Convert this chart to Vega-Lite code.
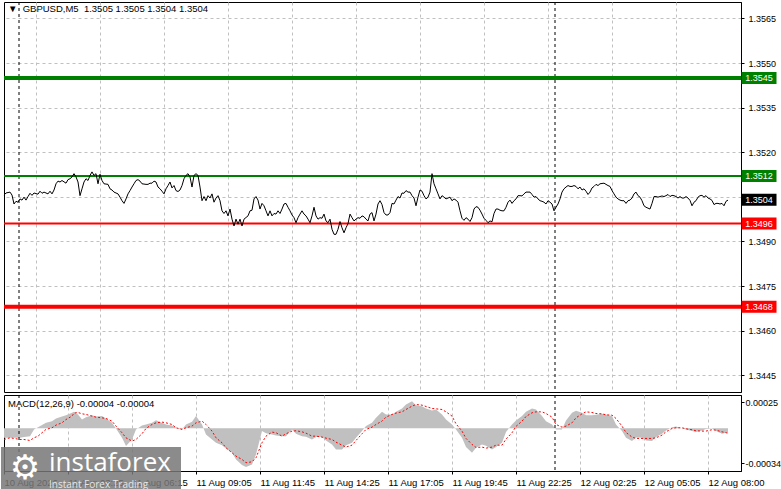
{
  "$schema": "https://vega.github.io/schema/vega-lite/v6.json",
  "padding": {"left": 0, "top": 1, "right": 0, "bottom": 0},
  "background": "white",
  "spacing": 1,
  "config": {
    "view": {"stroke": "black", "strokeWidth": 1},
    "font": "Liberation Sans",
    "axis": {"labelFont": "Liberation Sans", "labelFontSize": 9, "labelColor": "black", "tickColor": "black", "domainColor": "black", "gridColor": "#c0c0c0", "gridDash": [3, 3], "gridWidth": 1, "title": null, "labelOverlap": false, "labelFlush": false}
  },
  "datasets": {
    "price": [
      {"i":0,"p":1.35056},{"i":1,"p":1.35063},{"i":3,"p":1.35066},{"i":4,"p":1.35056},{"i":5,"p":1.35026},{"i":6,"p":1.35035},{"i":7,"p":1.35032},{"i":8,"p":1.35043},{"i":9,"p":1.35039},{"i":10,"p":1.35049},{"i":11,"p":1.35039},{"i":12,"p":1.35051},{"i":13,"p":1.35062},{"i":14,"p":1.35055},{"i":15,"p":1.35063},{"i":17,"p":1.35059},{"i":18,"p":1.35069},{"i":19,"p":1.35062},{"i":20,"p":1.35066},{"i":22,"p":1.3506},{"i":23,"p":1.35069},{"i":24,"p":1.3506},{"i":25,"p":1.35073},{"i":26,"p":1.35094},{"i":27,"p":1.35103},{"i":28,"p":1.351},{"i":29,"p":1.35105},{"i":31,"p":1.35096},{"i":32,"p":1.35108},{"i":33,"p":1.35111},{"i":34,"p":1.35117},{"i":35,"p":1.35128},{"i":36,"p":1.35117},{"i":37,"p":1.351},{"i":38,"p":1.35054},{"i":39,"p":1.35077},{"i":40,"p":1.351},{"i":41,"p":1.35111},{"i":42,"p":1.35105},{"i":43,"p":1.35122},{"i":44,"p":1.35134},{"i":45,"p":1.35122},{"i":46,"p":1.35128},{"i":47,"p":1.35094},{"i":48,"p":1.35126},{"i":49,"p":1.35105},{"i":50,"p":1.35094},{"i":52,"p":1.35092},{"i":53,"p":1.35077},{"i":54,"p":1.35073},{"i":55,"p":1.35066},{"i":57,"p":1.3506},{"i":58,"p":1.35049},{"i":59,"p":1.35037},{"i":60,"p":1.35028},{"i":61,"p":1.35043},{"i":62,"p":1.3506},{"i":63,"p":1.35071},{"i":64,"p":1.35083},{"i":65,"p":1.35094},{"i":66,"p":1.35105},{"i":67,"p":1.35108},{"i":68,"p":1.35103},{"i":69,"p":1.35094},{"i":71,"p":1.35092},{"i":72,"p":1.35092},{"i":73,"p":1.35096},{"i":74,"p":1.35096},{"i":75,"p":1.35103},{"i":76,"p":1.351},{"i":77,"p":1.35083},{"i":78,"p":1.35077},{"i":79,"p":1.35069},{"i":80,"p":1.3506},{"i":81,"p":1.35077},{"i":82,"p":1.35088},{"i":83,"p":1.351},{"i":84,"p":1.3508},{"i":85,"p":1.35088},{"i":86,"p":1.35071},{"i":87,"p":1.35068},{"i":88,"p":1.35073},{"i":89,"p":1.35088},{"i":90,"p":1.35111},{"i":91,"p":1.35122},{"i":92,"p":1.35128},{"i":93,"p":1.35117},{"i":94,"p":1.35083},{"i":95,"p":1.35122},{"i":96,"p":1.35128},{"i":97,"p":1.35122},{"i":98,"p":1.35083},{"i":99,"p":1.35037},{"i":100,"p":1.35051},{"i":101,"p":1.35037},{"i":102,"p":1.35054},{"i":103,"p":1.35046},{"i":104,"p":1.3506},{"i":105,"p":1.35032},{"i":106,"p":1.35046},{"i":107,"p":1.35054},{"i":108,"p":1.35037},{"i":109,"p":1.35003},{"i":110,"p":1.34994},{"i":111,"p":1.35003},{"i":112,"p":1.34986},{"i":113,"p":1.35009},{"i":114,"p":1.34975},{"i":115,"p":1.34952},{"i":116,"p":1.34975},{"i":117,"p":1.34958},{"i":118,"p":1.34975},{"i":119,"p":1.34952},{"i":120,"p":1.34975},{"i":122,"p":1.34986},{"i":123,"p":1.35003},{"i":124,"p":1.35005},{"i":125,"p":1.35043},{"i":126,"p":1.35051},{"i":127,"p":1.35039},{"i":128,"p":1.35009},{"i":129,"p":1.35028},{"i":130,"p":1.3502},{"i":131,"p":1.35003},{"i":132,"p":1.34986},{"i":133,"p":1.35003},{"i":134,"p":1.34986},{"i":135,"p":1.34994},{"i":136,"p":1.34992},{"i":137,"p":1.35003},{"i":138,"p":1.34994},{"i":139,"p":1.35009},{"i":140,"p":1.35026},{"i":141,"p":1.35028},{"i":142,"p":1.35015},{"i":143,"p":1.35003},{"i":144,"p":1.34989},{"i":145,"p":1.3498},{"i":146,"p":1.34963},{"i":147,"p":1.3498},{"i":148,"p":1.34992},{"i":149,"p":1.35003},{"i":150,"p":1.34992},{"i":151,"p":1.34986},{"i":152,"p":1.34975},{"i":153,"p":1.34963},{"i":154,"p":1.34986},{"i":155,"p":1.35015},{"i":156,"p":1.34986},{"i":157,"p":1.34975},{"i":158,"p":1.3498},{"i":159,"p":1.34978},{"i":160,"p":1.34992},{"i":161,"p":1.34969},{"i":162,"p":1.34963},{"i":163,"p":1.34975},{"i":164,"p":1.34941},{"i":165,"p":1.34924},{"i":166,"p":1.34924},{"i":167,"p":1.34941},{"i":168,"p":1.34967},{"i":169,"p":1.34946},{"i":170,"p":1.34929},{"i":171,"p":1.34946},{"i":172,"p":1.3496},{"i":173,"p":1.34992},{"i":174,"p":1.3498},{"i":175,"p":1.34969},{"i":176,"p":1.34975},{"i":177,"p":1.3498},{"i":178,"p":1.34978},{"i":179,"p":1.34986},{"i":180,"p":1.34983},{"i":181,"p":1.34975},{"i":182,"p":1.34969},{"i":183,"p":1.34992},{"i":184,"p":1.34997},
      {"i":185,"p":1.34969},{"i":186,"p":1.34992},{"i":187,"p":1.35026},{"i":188,"p":1.35037},{"i":189,"p":1.35024},{"i":190,"p":1.34997},{"i":191,"p":1.34989},{"i":192,"p":1.34989},{"i":193,"p":1.34997},{"i":194,"p":1.35028},{"i":195,"p":1.35026},{"i":196,"p":1.35039},{"i":197,"p":1.35051},{"i":198,"p":1.35046},{"i":199,"p":1.35063},{"i":200,"p":1.35062},{"i":201,"p":1.35071},{"i":202,"p":1.35066},{"i":203,"p":1.35066},{"i":204,"p":1.35054},{"i":205,"p":1.35046},{"i":206,"p":1.3502},{"i":207,"p":1.35049},{"i":208,"p":1.35073},{"i":209,"p":1.35069},{"i":210,"p":1.35054},{"i":211,"p":1.35043},{"i":212,"p":1.35049},{"i":213,"p":1.35066},{"i":214,"p":1.35128},{"i":215,"p":1.35094},{"i":216,"p":1.35077},{"i":217,"p":1.3506},{"i":218,"p":1.35043},{"i":219,"p":1.35054},{"i":220,"p":1.35049},{"i":221,"p":1.35043},{"i":222,"p":1.35046},{"i":223,"p":1.35049},{"i":224,"p":1.35037},{"i":225,"p":1.35043},{"i":226,"p":1.35039},{"i":227,"p":1.35032},{"i":228,"p":1.35003},{"i":229,"p":1.34978},{"i":230,"p":1.34971},{"i":231,"p":1.3498},{"i":232,"p":1.34975},{"i":233,"p":1.34967},{"i":234,"p":1.3498},{"i":235,"p":1.35009},{"i":236,"p":1.35017},{"i":237,"p":1.35015},{"i":238,"p":1.35005},{"i":239,"p":1.34992},{"i":240,"p":1.34978},{"i":241,"p":1.34971},{"i":242,"p":1.34963},{"i":243,"p":1.34969},{"i":244,"p":1.34966},{"i":245,"p":1.34994},{"i":246,"p":1.35009},{"i":247,"p":1.35009},{"i":248,"p":1.35005},{"i":249,"p":1.35003},{"i":250,"p":1.35003},{"i":251,"p":1.35015},{"i":252,"p":1.35032},{"i":253,"p":1.35039},{"i":254,"p":1.35028},{"i":255,"p":1.35037},{"i":256,"p":1.35043},{"i":257,"p":1.35054},{"i":258,"p":1.35054},{"i":259,"p":1.35053},{"i":260,"p":1.3506},{"i":261,"p":1.35066},{"i":262,"p":1.35066},{"i":263,"p":1.35066},{"i":264,"p":1.35058},{"i":265,"p":1.35049},{"i":266,"p":1.35051},{"i":267,"p":1.35043},{"i":268,"p":1.35037},{"i":269,"p":1.35035},{"i":270,"p":1.35032},{"i":271,"p":1.35026},{"i":272,"p":1.35037},{"i":273,"p":1.35032},{"i":274,"p":1.35026},{"i":275,"p":1.35003},{"i":276,"p":1.35015},{"i":277,"p":1.35026},{"i":278,"p":1.35043},{"i":279,"p":1.35066},{"i":280,"p":1.35077},{"i":281,"p":1.35083},{"i":282,"p":1.35088},{"i":283,"p":1.35085},{"i":284,"p":1.35085},{"i":285,"p":1.35088},{"i":286,"p":1.35085},{"i":287,"p":1.35077},{"i":288,"p":1.35083},{"i":289,"p":1.35073},{"i":290,"p":1.35077},{"i":291,"p":1.35069},{"i":292,"p":1.35058},{"i":293,"p":1.35066},{"i":294,"p":1.3508},{"i":295,"p":1.35085},{"i":296,"p":1.35092},{"i":297,"p":1.35088},{"i":298,"p":1.35094},{"i":299,"p":1.35095},{"i":300,"p":1.35096},{"i":301,"p":1.35092},{"i":302,"p":1.35088},{"i":303,"p":1.35085},{"i":304,"p":1.35071},{"i":305,"p":1.3506},{"i":306,"p":1.35049},{"i":307,"p":1.35043},{"i":308,"p":1.35039},{"i":309,"p":1.35037},{"i":310,"p":1.35037},{"i":311,"p":1.35028},{"i":312,"p":1.35037},{"i":313,"p":1.35039},{"i":314,"p":1.35046},{"i":315,"p":1.3506},{"i":316,"p":1.35066},{"i":317,"p":1.35054},{"i":318,"p":1.35049},{"i":319,"p":1.35037},{"i":320,"p":1.3502},{"i":321,"p":1.35015},{"i":322,"p":1.35012},{"i":323,"p":1.35009},{"i":324,"p":1.35028},{"i":325,"p":1.35051},{"i":326,"p":1.35051},{"i":327,"p":1.35049},{"i":328,"p":1.35051},{"i":329,"p":1.35053},{"i":330,"p":1.35051},{"i":331,"p":1.35054},{"i":332,"p":1.35058},{"i":333,"p":1.35051},{"i":334,"p":1.35055},{"i":335,"p":1.35054},{"i":336,"p":1.35051},{"i":337,"p":1.35046},{"i":338,"p":1.35051},{"i":339,"p":1.35046},{"i":340,"p":1.35046},{"i":341,"p":1.35051},{"i":342,"p":1.35046},{"i":343,"p":1.35038},{"i":344,"p":1.3502},{"i":345,"p":1.35032},{"i":346,"p":1.35037},{"i":347,"p":1.35049},{"i":348,"p":1.35054},{"i":349,"p":1.35055},{"i":350,"p":1.35049},{"i":351,"p":1.35054},{"i":352,"p":1.35046},{"i":353,"p":1.35043},{"i":354,"p":1.35038},{"i":355,"p":1.35024},{"i":356,"p":1.35028},{"i":357,"p":1.35028},{"i":358,"p":1.35026},{"i":359,"p":1.35028},{"i":360,"p":1.3502},{"i":361,"p":1.35035},{"i":362,"p":1.35039}
    ],
    "macd": [
      {"i":0,"h":-0.000092,"s":-0.000108},{"i":3,"h":-0.000092,"s":-0.000092},{"i":5,"h":-0.000092,"s":-0.000098},{"i":8,"h":-0.000092,"s":-0.000108},{"i":10,"h":-0.000085,"s":-0.000108},{"i":13,"h":-0.000076,"s":-0.000118},{"i":15,"h":-0.000011,"s":-0.000092},{"i":17,"h":0.000011,"s":-0.000076},{"i":19,"h":0.000031,"s":-0.000043},{"i":21,"h":0.000053,"s":-0.000011},{"i":24,"h":0.000069,"s":0.000005},{"i":26,"h":0.000095,"s":0.000031},{"i":29,"h":0.000114,"s":0.000053},{"i":31,"h":0.000127,"s":0.000085},{"i":34,"h":0.00015,"s":0.000118},{"i":35,"h":0.000159,"s":0.000147},{"i":37,"h":0.000134,"s":0.000153},{"i":39,"h":0.000085,"s":0.00014},{"i":41,"h":0.000108,"s":0.000134},{"i":44,"h":0.000127,"s":0.000118},{"i":46,"h":0.000114,"s":0.000108},{"i":49,"h":0.000118,"s":0.000101},{"i":51,"h":0.000095,"s":0.000095},{"i":54,"h":0.000053,"s":0.000069},{"i":56,"h":-0.000002,"s":0.000021},{"i":59,"h":-0.000092,"s":-0.000043},{"i":61,"h":-0.000172,"s":-0.000092},{"i":64,"h":-0.000108,"s":-0.000124},{"i":66,"h":-0.000011,"s":-0.000108},{"i":69,"h":0.000027,"s":-0.000053},{"i":71,"h":0.000037,"s":-0.000002},{"i":74,"h":0.000053,"s":0.000037},{"i":76,"h":0.000079,"s":0.000053},{"i":79,"h":0.000053,"s":0.00006},{"i":81,"h":0.000037,"s":0.000053},{"i":84,"h":0.000027,"s":0.000037},{"i":86,"h":0.000005,"s":0.000005},{"i":89,"h":-0.000011,"s":-0.000011},{"i":91,"h":0.000037,"s":0.000005},{"i":94,"h":0.000063,"s":0.000021},{"i":96,"h":0.000118,"s":0.000053},{"i":99,"h":0.000037,"s":0.000069},{"i":101,"h":-0.00006,"s":0.000037},{"i":104,"h":-0.000108,"s":-0.000027},{"i":106,"h":-0.00014,"s":-0.000092},{"i":109,"h":-0.000163,"s":-0.00014},{"i":111,"h":-0.000195,"s":-0.000188},{"i":114,"h":-0.000237,"s":-0.000237},{"i":116,"h":-0.000301,"s":-0.000269},{"i":119,"h":-0.000356,"s":-0.000301},{"i":121,"h":-0.000375,"s":-0.000333},{"i":124,"h":-0.000349,"s":-0.000324},{"i":126,"h":-0.000253,"s":-0.000285},{"i":129,"h":-0.000027,"s":-0.00014},{"i":131,"h":-0.000047,"s":-0.000076},{"i":134,"h":-0.00006,"s":-0.000037},{"i":136,"h":-0.000069,"s":-0.000043},{"i":139,"h":-0.000076,"s":-0.000076},{"i":141,"h":-0.000076,"s":-0.000053},{"i":144,"h":-0.000011,"s":-0.000027},{"i":146,"h":-0.000053,"s":-0.000024},{"i":149,"h":-0.000076,"s":-0.000034},{"i":151,"h":-0.000082,"s":-0.000047},{"i":154,"h":-0.000108,"s":-0.000076},{"i":156,"h":-0.000085,"s":-0.000076},{"i":159,"h":-0.000085,"s":-0.000085},{"i":161,"h":-0.000118,"s":-0.000095},{"i":164,"h":-0.000156,"s":-0.000108},{"i":166,"h":-0.000205,"s":-0.000134},{"i":169,"h":-0.000205,"s":-0.000163},{"i":171,"h":-0.000163,"s":-0.000182},{"i":174,"h":-0.00014,"s":-0.000163},{"i":176,"h":-0.000092,"s":-0.000118},{"i":179,"h":-0.000027,"s":-0.000053},{"i":181,"h":0.000021,"s":-0.000011},{"i":184,"h":0.000053,"s":0.000011},{"i":186,"h":0.000101,"s":0.000037},{"i":189,"h":0.000159,"s":0.000069},{"i":191,"h":0.000134,"s":0.000108},{"i":194,"h":0.000134,"s":0.000134},{"i":196,"h":0.000159,"s":0.000147},{"i":199,"h":0.000192,"s":0.000159},{"i":201,"h":0.00023,"s":0.000182},{"i":204,"h":0.000262,"s":0.000214},{"i":206,"h":0.000224,"s":0.00023},{"i":209,"h":0.000214,"s":0.000224},{"i":211,"h":0.000192,"s":0.000211},{"i":214,"h":0.000172,"s":0.000192},{"i":216,"h":0.000182,"s":0.000188},{"i":219,"h":0.000134,"s":0.000182},{"i":221,"h":0.000085,"s":0.000159},{"i":224,"h":0.000037,"s":0.000118},{"i":226,"h":-0.000011,"s":0.000043},{"i":229,"h":-0.000092,"s":-0.000027},{"i":231,"h":-0.000182,"s":-0.000098},{"i":234,"h":-0.000237,"s":-0.000156},{"i":236,"h":-0.000188,"s":-0.000185},{"i":239,"h":-0.000156,"s":-0.000182},{"i":241,"h":-0.000169,"s":-0.000192},{"i":244,"h":-0.000205,"s":-0.000182},{"i":246,"h":-0.000182,"s":-0.000163},{"i":249,"h":-0.00014,"s":-0.000163},{"i":251,"h":-0.000037,"s":-0.000105},{"i":254,"h":0.000037,"s":-0.000043},{"i":256,"h":0.000076,"s":0.000018},{"i":259,"h":0.000118,"s":0.000069},{"i":261,"h":0.000159,"s":0.000114},{"i":264,"h":0.000192,"s":0.00015},{"i":266,"h":0.000182,"s":0.000159},{"i":269,"h":0.000118,"s":0.000159},{"i":271,"h":0.000069,"s":0.000143},{"i":274,"h":0.000037,"s":0.000108},{"i":276,"h":-0.000011,"s":0.000037},{"i":279,"h":-0.000011,"s":0.000011},{"i":281,"h":0.000076,"s":0.000021},{"i":284,"h":0.00015,"s":0.000053},{"i":286,"h":0.000169,"s":0.000101},{"i":289,"h":0.00015,"s":0.00014},{"i":291,"h":0.000127,"s":0.000159},{"i":294,"h":0.000127,"s":0.000153},{"i":296,"h":0.00013,"s":0.000143},{"i":299,"h":0.00014,"s":0.00014},{"i":301,"h":0.000134,"s":0.00013},{"i":304,"h":0.000118,"s":0.000127},{"i":306,"h":0.000037,"s":0.000095},{"i":309,"h":-0.000027,"s":0.000021},{"i":311,"h":-0.000092,"s":-0.00004},{"i":314,"h":-0.000124,"s":-0.000085},{"i":316,"h":-0.000089,"s":-0.000098},{"i":319,"h":-0.000092,"s":-0.000098},{"i":321,"h":-0.000118,"s":-0.000098},{"i":324,"h":-0.000124,"s":-0.000098},{"i":326,"h":-0.000085,"s":-0.000092},{"i":329,"h":-0.000053,"s":-0.000066},{"i":331,"h":-0.000021,"s":-0.000034},{"i":334,"h":0.000011,"s":-0.000002},{"i":336,"h":0.000018,"s":0.000005},{"i":339,"h":-0.000002,"s":0.000005},{"i":341,"h":-0.000011,"s":-0.000005},{"i":344,"h":-0.000027,"s":-0.000014},{"i":346,"h":-0.000037,"s":-0.000024},{"i":349,"h":-0.000021,"s":-0.000027},{"i":351,"h":-0.000008,"s":-0.000027},{"i":354,"h":-0.000002,"s":-0.000014},{"i":356,"h":-0.000027,"s":-0.000018},{"i":359,"h":-0.000053,"s":-0.000034},{"i":361,"h":-0.000043,"s":-0.000043},{"i":362,"h":-0.000043,"s":-0.000047}
    ],
    "levels": [
      {"p": 1.3545, "role": "buy target"},
      {"p": 1.3512, "role": "buy entry"},
      {"p": 1.3496, "role": "sell entry"},
      {"p": 1.3468, "role": "sell target"},
      {"p": 1.3504, "role": "bid"}
    ],
    "seps": [{"i": 7.5}, {"i": 275.5}]
  },
  "vconcat": [
    {
      "width": 737,
      "height": 390,
      "title": {"text": "▼\u00a0\u00a0GBPUSD,M5\u00a0\u00a01.3505 1.3505 1.3504 1.3504", "anchor": "start", "frame": "group", "offset": -12, "dx": 4, "fontSize": 9.5, "fontWeight": "normal", "font": "Liberation Sans", "color": "black"},
      "layer": [
        {
          "data": {"name": "seps"},
          "mark": {"type": "rule", "color": "black", "strokeDash": [3, 3], "strokeWidth": 1},
          "encoding": {"x": {"field": "i", "type": "quantitative"}}
        },
        {
          "data": {"name": "levels"},
          "transform": [{"filter": "datum.role != 'bid'"}],
          "mark": {"type": "rule"},
          "encoding": {
            "y": {"field": "p", "type": "quantitative"},
            "color": {"field": "role", "type": "nominal", "scale": {"domain": ["buy target", "buy entry", "sell entry", "sell target", "bid"], "range": ["#008000", "#008000", "#ff0000", "#ff0000", "#000000"]}, "legend": null},
            "strokeWidth": {"condition": {"test": "datum.role == 'buy target' || datum.role == 'sell target'", "value": 4}, "value": 2}
          }
        },
        {
          "data": {"name": "price"},
          "mark": {"type": "line", "color": "black", "strokeWidth": 1},
          "encoding": {
            "x": {"field": "i", "type": "quantitative", "scale": {"domain": [0, 368.5], "nice": false, "zero": false},
                  "axis": {"values": [16,32,48,64,80,96,112,128,144,160,176,192,208,224,240,256,272,288,304,320,336,352], "labels": false, "ticks": false, "domain": false, "grid": true}},
            "y": {"field": "p", "type": "quantitative", "scale": {"domain": [1.343935, 1.357055], "nice": false, "zero": false},
                  "axis": {"orient": "right", "values": [1.3565, 1.355, 1.3535, 1.352, 1.3505, 1.349, 1.3475, 1.346, 1.3445], "format": ".4f", "labelExpr": "datum.value > 1.35045 && datum.value < 1.35055 ? '' : datum.label", "tickSize": 3, "labelPadding": 4, "grid": true, "domain": true}}
          }
        },
        {
          "data": {"name": "levels"},
          "mark": {"type": "rect", "width": 35, "height": 12, "clip": false},
          "encoding": {
            "x": {"datum": 377.5},
            "y": {"field": "p", "type": "quantitative"},
            "color": {"field": "role", "type": "nominal", "legend": null}
          }
        },
        {
          "data": {"name": "levels"},
          "mark": {"type": "text", "color": "white", "fontSize": 9, "font": "Liberation Sans", "align": "center", "baseline": "middle", "clip": false},
          "encoding": {
            "x": {"datum": 377.5},
            "y": {"field": "p", "type": "quantitative"},
            "text": {"field": "p", "type": "quantitative", "format": ".4f"}
          }
        }
      ]
    },
    {
      "width": 737,
      "height": 76,
      "title": {"text": "MACD(12,26,9) -0.00004 -0.00004", "anchor": "start", "frame": "group", "offset": -14, "dx": 4, "fontSize": 9.5, "fontWeight": "normal", "font": "Liberation Sans", "color": "black"},
      "layer": [
        {
          "data": {"name": "macd"},
          "mark": {"type": "area", "color": "#c0c0c0", "opacity": 1},
          "encoding": {
            "x": {"field": "i", "type": "quantitative", "scale": {"domain": [0, 368.5], "nice": false, "zero": false},
                  "axis": {"values": [0,16,32,48,64,80,96,112,128,144,160,176,192,208,224,240,256,272,288,304,320,336,352],
                           "labelExpr": "datum.value % 32 == 0 ? ['10 Aug 2026','11 Aug 03:25','11 Aug 06:15','11 Aug 09:05','11 Aug 11:45','11 Aug 14:25','11 Aug 17:05','11 Aug 19:45','11 Aug 22:25','12 Aug 02:25','12 Aug 05:05','12 Aug 08:00'][datum.value / 32] : ''",
                           "labelFontSize": 9.5,
                           "grid": true, "gridOpacity": {"condition": {"test": "datum.value == 0", "value": 0}, "value": 1},
                           "tickOpacity": {"condition": {"test": "datum.value % 32 == 0", "value": 1}, "value": 0},
                           "tickSize": 3, "labelAlign": "left", "labelPadding": 3, "domain": true}},
            "y": {"field": "h", "type": "quantitative", "scale": {"domain": [-0.000413, 0.000322], "nice": false, "zero": false},
                  "axis": {"orient": "right", "values": [0.00025, 0, -0.00034], "labelExpr": "datum.value == 0 ? '0.00' : (datum.value < 0 ? '-' + format(-datum.value, '.5f') : format(datum.value, '.5f'))", "grid": true, "gridOpacity": {"condition": {"test": "datum.value == 0", "value": 1}, "value": 0}, "tickSize": 3, "labelPadding": 1}},
            "y2": {"datum": 0}
          }
        },
        {
          "data": {"name": "macd"},
          "mark": {"type": "line", "color": "#ff0000", "strokeDash": [2, 2], "strokeWidth": 1},
          "encoding": {
            "x": {"field": "i", "type": "quantitative"},
            "y": {"field": "s", "type": "quantitative"}
          }
        },
        {
          "data": {"name": "seps"},
          "mark": {"type": "rule", "color": "black", "strokeDash": [3, 3], "strokeWidth": 1},
          "encoding": {"x": {"field": "i", "type": "quantitative"}}
        },
        {
          "data": {"values": [{"brand": "instaforex"}]},
          "mark": {"type": "rect", "color": "#777777", "opacity": 0.85, "clip": false},
          "encoding": {
            "x": {"datum": -1.5}, "x2": {"datum": 88.5},
            "y": {"datum": -0.000181}, "y2": {"datum": -0.000616}
          }
        },
        {
          "data": {"values": [{"brand": "instaforex"}]},
          "mark": {"type": "text", "color": "white", "font": "DejaVu Sans", "fontSize": 34, "align": "center", "baseline": "middle", "clip": false},
          "encoding": {"x": {"datum": 10.5}, "y": {"datum": -0.000394}, "text": {"value": "⚙"}}
        },
        {
          "data": {"values": [{"brand": "instaforex"}]},
          "mark": {"type": "text", "color": "white", "font": "Open Sans", "fontSize": 26, "align": "left", "baseline": "alphabetic", "clip": false},
          "encoding": {"x": {"datum": 22.5}, "y": {"datum": -0.000413}, "text": {"field": "brand"}}
        },
        {
          "data": {"values": [{"tagline": "Instant Forex Trading"}]},
          "mark": {"type": "text", "color": "#e6e6e6", "font": "Open Sans", "fontSize": 10, "align": "left", "baseline": "alphabetic", "clip": false},
          "encoding": {"x": {"datum": 22.5}, "y": {"datum": -0.000577}, "text": {"field": "tagline"}}
        }
      ]
    }
  ]
}
